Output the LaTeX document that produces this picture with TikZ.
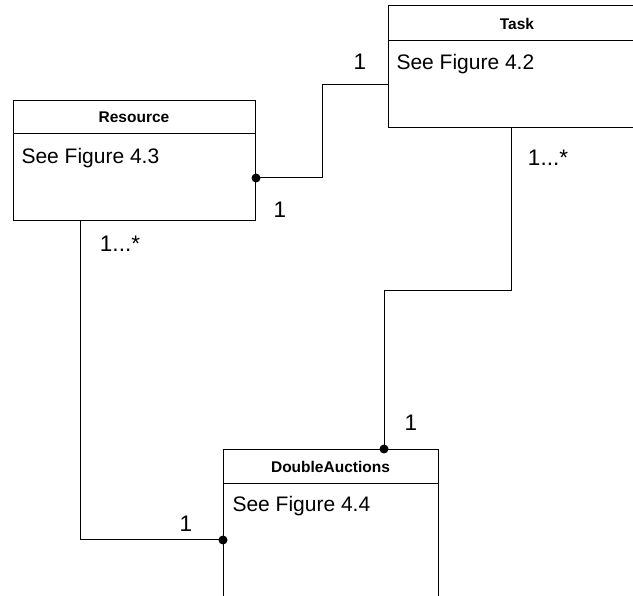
\documentclass[tikz,border=0pt]{standalone}
\usepackage{fontspec}
\setmainfont{Liberation Sans}
\usetikzlibrary{calc}
\begin{document}
\begin{tikzpicture}[x=1pt,y=-1pt,line width=1pt,
  umlbox/.style={draw,rectangle,anchor=north west,inner sep=0pt},
  hdr/.style={font=\bfseries\fontsize{15.5}{18}\selectfont,inner sep=0pt},
  body/.style={font=\fontsize{21}{24}\selectfont,anchor=base west,inner sep=0pt},
  lbl/.style={font=\fontsize{22.5}{26}\selectfont,anchor=base,inner sep=0pt},
  dotmark/.style={fill,circle,inner sep=0pt,minimum size=9pt}]
\useasboundingbox (0,0) rectangle (633,596);
\clip (0,0) rectangle (633,596);
% boxes
\node[umlbox,minimum width=330pt,minimum height=122pt] (task) at (388,5) {};
\draw ($(task.north west)+(0,36)$) -- ($(task.north east)+(0,36)$);
\node[hdr] (taskh) at ($(task.north west)+(129,19)$) {Task};
\node[body] (taskb) at ($(task.north west)+(8,65)$) {See Figure 4.2};

\node[umlbox,minimum width=242pt,minimum height=120pt] (res) at (13,100) {};
\draw ($(res.north west)+(0,34)$) -- ($(res.north east)+(0,34)$);
\node[hdr] (resh) at ($(res.north west)+(121,17)$) {Resource};
\node[body] (resb) at ($(res.north west)+(8,64)$) {See Figure 4.3};

\node[umlbox,minimum width=215pt,minimum height=200pt] (da) at (223,449) {};
\draw ($(da.north west)+(0,35)$) -- ($(da.north east)+(0,35)$);
\node[hdr] (dah) at ($(da.north west)+(107.5,18)$) {DoubleAuctions};
\node[body] (dab) at ($(da.north west)+(9,63)$) {See Figure 4.4};

% connectors
\coordinate (c1) at ($(res.north east)+(0,78)$);
\draw (c1) -- ++(66,0) |- ($(task.north west)+(0,80)$);
\node[dotmark] (d1) at (c1) {};

\coordinate (c2) at ($(da.north west)+(161,0)$);
\draw ($(task.south west)+(123,0)$) -- ++(0,163) -| (c2);
\node[dotmark] (d2) at (c2) {};

\coordinate (c3) at ($(da.north west)+(0,91)$);
\draw ($(res.south west)+(67,0)$) |- (c3);
\node[dotmark] (d3) at (c3) {};

% multiplicities
\node[lbl] (l1) at (360,70) {1};
\node[lbl] (l2) at (280,218) {1};
\node[lbl] (l3) at (548,166) {1...*};
\node[lbl] (l4) at (120,252) {1...*};
\node[lbl] (l5) at (411,431) {1};
\node[lbl] (l6) at (186,532) {1};
\end{tikzpicture}
\end{document}
